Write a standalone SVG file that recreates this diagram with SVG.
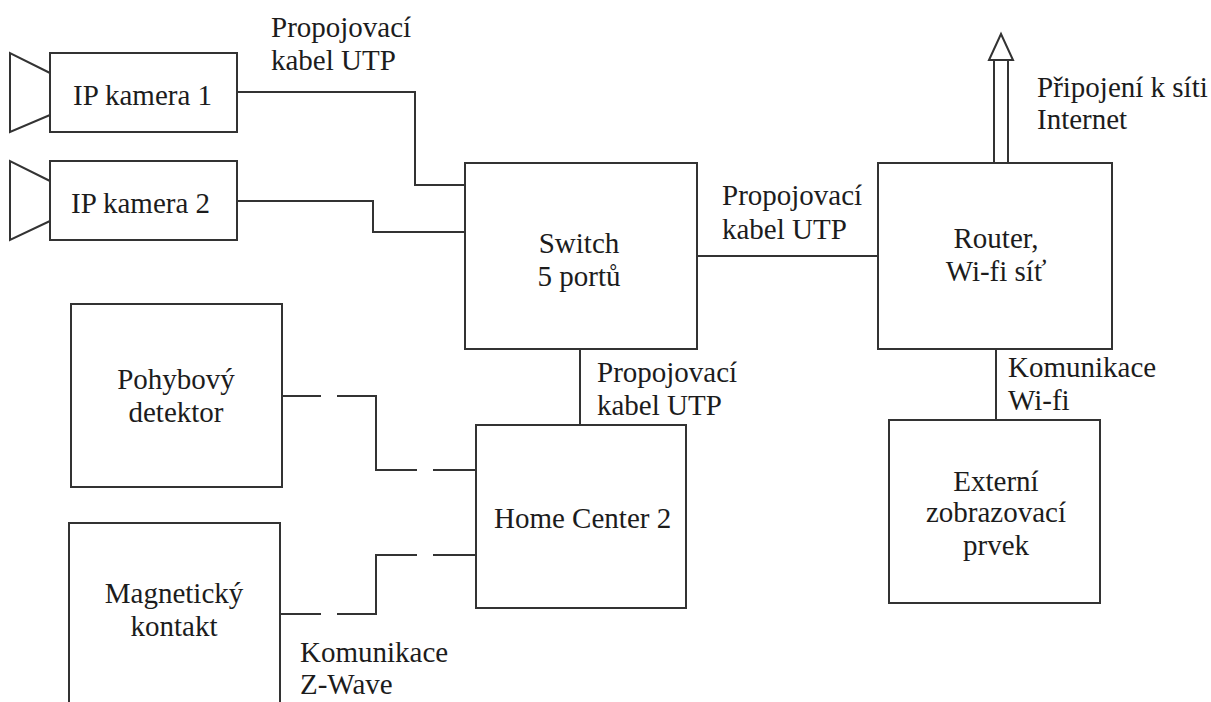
<svg xmlns="http://www.w3.org/2000/svg" width="1211" height="702" viewBox="0 0 1211 702">
<style>
.n{fill:#fff;stroke:#333;stroke-width:2}
.c{fill:none;stroke:#333;stroke-width:2}
text{font-family:"Liberation Serif","Times New Roman",serif;font-size:29px;fill:#1c1c1c}
.m{text-anchor:middle}
</style>
<rect width="1211" height="702" fill="#fff"/>
<g id="connectors">
<path class="c" d="M237 92H415V185H465"/>
<path class="c" d="M237 201H373V232H465"/>
<path class="c" d="M697 256H878"/>
<path class="c" d="M580 349V425"/>
<path class="c" d="M996 349V420"/>
<path class="c" d="M282 396H321M337 396H376V470H417M433 470H476"/>
<path class="c" d="M280 614H321M337 614H376V555H417M433 555H476"/>
<path class="c" d="M994 163V60H989L1001 34L1013 60H1008V163M994 60H1008"/>
</g>
<g id="cam1"><path class="c" d="M50 73L10 53V132L50 115"/><rect class="n" x="50" y="53" width="187" height="79"/><text x="73" y="105">IP kamera 1</text></g>
<g id="cam2"><path class="c" d="M50 181L10 161V240L50 221"/><rect class="n" x="50" y="161" width="187" height="79"/><text x="71" y="213">IP kamera 2</text></g>
<g id="switch"><rect class="n" x="465" y="163" width="232" height="186"/><text class="m" x="579" y="253">Switch</text><text class="m" x="579" y="286">5 portů</text></g>
<g id="router"><rect class="n" x="878" y="163" width="234" height="186"/><text class="m" x="996" y="248">Router,</text><text class="m" x="996" y="281">Wi-fi síť</text></g>
<g id="pohyb"><rect class="n" x="71" y="304" width="211" height="183"/><text class="m" x="176" y="389">Pohybový</text><text class="m" x="176" y="422">detektor</text></g>
<g id="hc2"><rect class="n" x="476" y="425" width="210" height="183"/><text x="494" y="528">Home Center 2</text></g>
<g id="magnet"><path class="n" d="M69 703V523H280V703"/><text class="m" x="174" y="603">Magnetický</text><text class="m" x="174" y="636">kontakt</text></g>
<g id="externi"><rect class="n" x="889" y="420" width="211" height="183"/><text class="m" x="996" y="491">Externí</text><text class="m" x="996" y="522">zobrazovací</text><text class="m" x="996" y="555">prvek</text></g>
<g id="labels">
<text x="271" y="37">Propojovací</text><text x="271" y="70">kabel UTP</text>
<text x="722" y="205">Propojovací</text><text x="722" y="239">kabel UTP</text>
<text x="597" y="382">Propojovací</text><text x="597" y="415">kabel UTP</text>
<text x="1037" y="97">Připojení k síti</text><text x="1037" y="129">Internet</text>
<text x="1008" y="377">Komunikace</text><text x="1008" y="410">Wi-fi</text>
<text x="300" y="662">Komunikace</text><text x="300" y="694">Z-Wave</text>
</g>
</svg>
